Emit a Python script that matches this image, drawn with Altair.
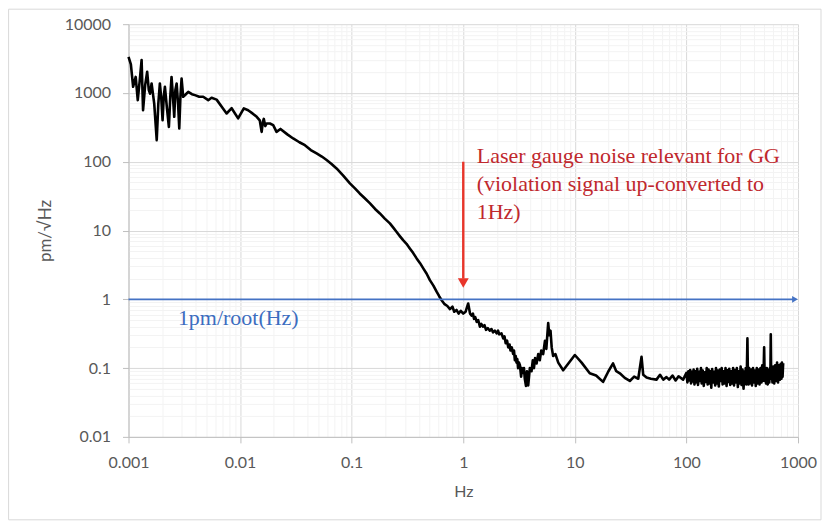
import altair as alt
import pandas as pd

# ---- data (Hz, pm/sqrt(Hz)) ----
# segment 1: noisy low-frequency part
f_low = [
    0.00100, 0.00105, 0.00110, 0.00116, 0.00121, 0.00126, 0.00131, 0.00135, 0.00141, 0.00147,
    0.00152, 0.00156, 0.00161, 0.00170, 0.00179, 0.00185, 0.00191, 0.00197, 0.00202, 0.00207,
    0.00212, 0.00221, 0.00230, 0.00237, 0.00243, 0.00250, 0.00257, 0.00263, 0.00270, 0.00278,
    0.00285, 0.00292, 0.00299, 0.00309, 0.00325, 0.00343, 0.00370, 0.00394, 0.00430, 0.00467,
    0.00518, 0.00555, 0.00616, 0.00700, 0.00757, 0.00840, 0.00960, 0.0108, 0.0118, 0.0130,
    0.0141, 0.0150, 0.0156, 0.0160, 0.0163, 0.0168, 0.0173, 0.0185, 0.0198, 0.0212,
]
v_low = [
    3350, 2600, 1230, 1710, 785, 1500, 3000, 562, 1300, 2030,
    1100, 977, 1375, 700, 206, 700, 1375, 800, 403, 900,
    1230, 600, 321, 900, 1710, 900, 450, 1100, 1375, 700,
    305, 900, 1620, 880, 950, 1040, 960, 930, 880, 880,
    785, 850, 800, 600, 503, 600, 427, 596, 560, 500,
    450, 400, 272, 380, 420, 330, 360, 360, 340, 272,
]
# segment 2: smooth roll-off
f_roll = [
    0.0230, 0.0265, 0.0299, 0.0340, 0.0381, 0.0430, 0.0485, 0.0540, 0.0596, 0.0660,
    0.0732, 0.0840, 0.0964, 0.107, 0.118, 0.131, 0.146, 0.162, 0.179, 0.198,
    0.220, 0.236, 0.252, 0.270, 0.289, 0.310, 0.332, 0.356, 0.382, 0.410,
    0.438, 0.470, 0.502, 0.540, 0.577, 0.610,
]
v_roll = [
    300, 250, 218, 192, 174, 148, 132, 119, 106, 93,
    80, 63, 48.4, 41, 34.6, 29.5, 24.8, 20.6, 17.7, 14.9,
    12.7, 11.0, 9.58, 8.3, 7.24, 6.4, 5.49, 4.7, 3.93, 3.35,
    2.81, 2.35, 1.90, 1.58, 1.29, 1.10,
]
# segment 3: 0.64 Hz - 100 Hz
f_mid = [
    0.640, 0.680, 0.720, 0.760, 0.800, 0.830, 0.870, 0.910, 0.950, 1.000,
    1.050, 1.107, 1.15, 1.19, 1.22, 1.25, 1.28, 1.32, 1.36, 1.41,
    1.45, 1.50, 1.55, 1.60, 1.66, 1.73, 1.79, 1.85, 1.92, 1.99,
    2.05, 2.10, 2.20, 2.28, 2.34, 2.40, 2.47, 2.53, 2.60, 2.65,
    2.72, 2.80, 2.85, 2.90, 2.95, 3.00, 3.05, 3.10, 3.16, 3.22,
    3.30, 3.35, 3.45, 3.50, 3.56, 3.65, 3.72, 3.82, 3.95, 4.09,
    4.20, 4.30, 4.40, 4.54, 4.70, 4.85, 5.00, 5.20, 5.40, 5.55,
    5.77, 5.90, 6.05, 6.20, 6.39, 6.70, 7.10, 7.86, 10.0, 11.5,
    13.6, 15.5, 17.9, 20.0, 22.0, 23.5, 25.3, 28.0, 31.1, 34.0,
    37.0, 39.6, 41.0, 43.9, 48.0, 53.9, 58.0, 62.0, 66.3, 70.0,
    75.0, 80.0, 85.0, 93.4,
]
v_mid = [
    0.97, 0.85, 0.80, 0.72, 0.78, 0.66, 0.70, 0.62, 0.68, 0.62,
    0.66, 0.87, 0.62, 0.58, 0.62, 0.52, 0.55, 0.47, 0.50, 0.40,
    0.44, 0.40, 0.42, 0.36, 0.38, 0.35, 0.37, 0.33, 0.35, 0.32,
    0.35, 0.31, 0.32, 0.27, 0.29, 0.23, 0.25, 0.20, 0.22, 0.18,
    0.20, 0.16, 0.18, 0.13, 0.15, 0.12, 0.135, 0.10, 0.12, 0.11,
    0.075, 0.10, 0.085, 0.10, 0.07, 0.055, 0.09, 0.056, 0.10, 0.09,
    0.13, 0.10, 0.14, 0.117, 0.16, 0.13, 0.18, 0.16, 0.25, 0.19,
    0.45, 0.30, 0.35, 0.20, 0.15, 0.16, 0.12, 0.093, 0.155, 0.12,
    0.084, 0.078, 0.063, 0.09, 0.117, 0.09, 0.084, 0.072, 0.065, 0.075,
    0.07, 0.146, 0.08, 0.073, 0.07, 0.068, 0.08, 0.068, 0.074, 0.068,
    0.078, 0.066, 0.076, 0.068,
]
# segment 4: dense noise band 100 Hz - 736 Hz
f_high = [
    100, 102, 104, 106, 108, 110, 112, 114, 116, 118,
    120, 122, 125, 127, 130, 132, 135, 137, 140, 143,
    146, 149, 152, 155, 158, 161, 164, 167, 170, 174,
    177, 181, 184, 188, 191, 195, 199, 203, 207, 211,
    215, 220, 224, 229, 233, 238, 242, 247, 252, 257,
    262, 267, 272, 278, 283, 289, 294, 300, 306, 312,
    318, 325, 331, 336, 340, 344, 348, 352, 356, 360,
    365, 372, 380, 387, 395, 402, 410, 418, 427, 435,
    444, 452, 461, 470, 478, 485, 491, 497, 503, 510,
    517, 525, 535, 546, 553, 560, 565, 570, 575, 580,
    590, 600, 612, 624, 636, 649, 662, 675, 688, 700,
    710, 718, 727, 736,
]
v_high = [
    0.085, 0.062, 0.09, 0.066, 0.094, 0.06, 0.088, 0.064, 0.095, 0.058,
    0.09, 0.062, 0.098, 0.057, 0.088, 0.065, 0.1, 0.06, 0.092, 0.055,
    0.087, 0.063, 0.1, 0.058, 0.095, 0.06, 0.09, 0.052, 0.097, 0.062,
    0.088, 0.056, 0.1, 0.06, 0.092, 0.054, 0.095, 0.065, 0.1, 0.058,
    0.09, 0.06, 0.1, 0.055, 0.093, 0.063, 0.098, 0.057, 0.09, 0.06,
    0.1, 0.056, 0.094, 0.062, 0.1, 0.053, 0.09, 0.06, 0.105, 0.057,
    0.095, 0.05, 0.09, 0.062, 0.1, 0.058, 0.09, 0.27, 0.07, 0.058,
    0.1, 0.06, 0.095, 0.056, 0.1, 0.062, 0.092, 0.055, 0.1, 0.06,
    0.095, 0.058, 0.1, 0.062, 0.11, 0.065, 0.08, 0.2, 0.065, 0.1,
    0.06, 0.1, 0.058, 0.095, 0.062, 0.1, 0.07, 0.31, 0.075, 0.1,
    0.062, 0.105, 0.06, 0.11, 0.065, 0.12, 0.062, 0.11, 0.068, 0.115,
    0.07, 0.12, 0.075, 0.118,
]

# reference level 1 pm/sqrt(Hz)
ref_freq = [0.001, 940]
ref_level = [1, 1]
ref_arrow_freq = [1000]

# annotation arrow at 1 Hz
ann_freq = [1]
ann_top = [100]
ann_bottom = [2.0]
ann_head = [1.72]

x_decades = [0.001, 0.01, 0.1, 1, 10, 100]
y_decades = [0.01, 0.1, 1, 10, 100, 1000]
mult = [1, 2, 3, 4, 5, 6, 7, 8, 9]
x_ticks = [round(d * m, 6) for d in x_decades for m in mult] + [1000]
y_ticks = [round(d * m, 6) for d in y_decades for m in mult] + [10000]

freq = f_low + f_roll + f_mid + f_high
noise = v_low + v_roll + v_mid + v_high
assert len(freq) == len(noise)

curve_df = pd.DataFrame({"f": freq, "v": noise})
ref_df = pd.DataFrame({"f": ref_freq, "v": ref_level})
arrow_df = pd.DataFrame({"f": ref_arrow_freq, "v": [1]})
ann_df = pd.DataFrame({"f": ann_freq, "v": ann_top, "v2": ann_bottom, "h": ann_head})
red_text_df = pd.DataFrame({"f": [1.32], "v": [97],
                            "t": ["Laser gauge noise relevant for GG\n(violation signal up-converted to\n1Hz)"]})
blue_text_df = pd.DataFrame({"f": [0.00277], "v": [0.42], "t": ["1pm/root(Hz)"]})

MAJOR = "abs(log(datum.value)/LN10 - round(log(datum.value)/LN10)) < 0.001"
LABEL_FONT = "Lato"
GRAY = "#595959"

x_axis = alt.Axis(
    values=x_ticks, title="Hz", labelExpr=f"({MAJOR}) ? '' + datum.value : ''",
    labelOverlap=False, labelBound=False, labelFlush=False,
    labelFont=LABEL_FONT, labelFontSize=16, labelColor=GRAY, labelPadding=12,
    titleFont=LABEL_FONT, titleFontSize=16, titleColor=GRAY, titleFontWeight="normal", titlePadding=13,
    grid=True,
    gridColor={"condition": {"test": MAJOR, "value": "#D9D9D9"}, "value": "#F3F3F3"},
    tickColor={"condition": {"test": MAJOR, "value": "#BFBFBF"}, "value": "transparent"},
    tickSize=6, domainColor="#BFBFBF",
)
y_axis = alt.Axis(
    values=y_ticks, title="pm/√Hz", labelExpr=f"({MAJOR}) ? '' + datum.value : ''",
    labelOverlap=False, labelBound=False, labelFlush=False,
    labelFont=LABEL_FONT, labelFontSize=16, labelColor=GRAY, labelPadding=12,
    titleFont=LABEL_FONT, titleFontSize=17, titleColor=GRAY, titleFontWeight="normal", titlePadding=10,
    grid=True,
    gridColor={"condition": {"test": MAJOR, "value": "#D9D9D9"}, "value": "#F3F3F3"},
    tickColor={"condition": {"test": MAJOR, "value": "#BFBFBF"}, "value": "transparent"},
    tickSize=6, domainColor="#BFBFBF",
)

xs = alt.Scale(type="log", domain=[0.001, 1000])
ys = alt.Scale(type="log", domain=[0.01, 10000])

curve = alt.Chart(curve_df).mark_line(color="black", strokeWidth=2.6, strokeJoin="round").encode(
    x=alt.X("f:Q", scale=xs, axis=x_axis),
    y=alt.Y("v:Q", scale=ys, axis=y_axis),
    order="f:Q",
)

blue = "#4472C4"
ref_line = alt.Chart(ref_df).mark_line(color=blue, strokeWidth=1.8).encode(
    x=alt.X("f:Q", scale=xs), y=alt.Y("v:Q", scale=ys)
)
ref_head = alt.Chart(arrow_df).mark_point(shape="triangle-right", filled=True, color=blue,
                                          size=45, opacity=1, xOffset=-3).encode(
    x=alt.X("f:Q", scale=xs), y=alt.Y("v:Q", scale=ys)
)

red = "#E8352A"
ann_rule = alt.Chart(ann_df).mark_rule(color=red, strokeWidth=2.4).encode(
    x=alt.X("f:Q", scale=xs), y=alt.Y("v:Q", scale=ys), y2="v2:Q"
)
ann_head_mark = alt.Chart(ann_df).mark_point(shape="triangle-down", filled=True, color=red,
                                             size=120, opacity=1).encode(
    x=alt.X("f:Q", scale=xs), y=alt.Y("h:Q", scale=ys)
)

red_text = alt.Chart(red_text_df).mark_text(
    align="left", baseline="alphabetic", font="Liberation Serif", fontSize=22,
    color="#C0282D", lineBreak="\n", lineHeight=28
).encode(x=alt.X("f:Q", scale=xs), y=alt.Y("v:Q", scale=ys), text="t:N")

blue_text = alt.Chart(blue_text_df).mark_text(
    align="left", baseline="alphabetic", font="Liberation Serif", fontSize=22, color="#3C6DBF"
).encode(x=alt.X("f:Q", scale=xs), y=alt.Y("v:Q", scale=ys), text="t:N")

frame = alt.Chart(pd.DataFrame({"a": [0]})).mark_rect(
    fill="transparent", stroke="#D9D9D9", strokeWidth=1
).encode(x=alt.value(-120), x2=alt.value(693), y=alt.value(-15), y2=alt.value(496))

chart = alt.layer(
    frame, curve, ref_line, ref_head, ann_rule, ann_head_mark, red_text, blue_text
).properties(
    width=670, height=413,
    padding={"left": 120.6, "top": 16, "right": 24, "bottom": 84},
    autosize=alt.AutoSizeParams(type="none"),
    background="white",
).configure_view(stroke="transparent")

chart.save("out.html", embed_options={"renderer": "svg", "actions": False})
